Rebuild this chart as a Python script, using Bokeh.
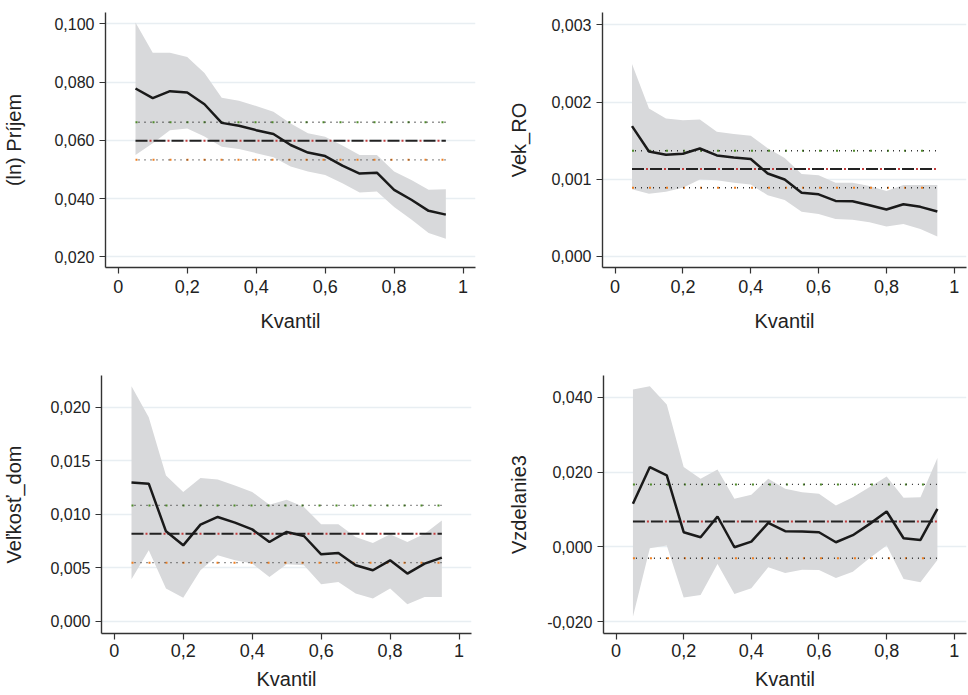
from bokeh.plotting import figure
from bokeh.layouts import column, row
from bokeh.models import FixedTicker, CustomJSTickFormatter, ColumnDataSource
from bokeh.embed import file_html
from bokeh.resources import INLINE

# ---------------- data ----------------
quantiles = [0.05, 0.10, 0.15, 0.20, 0.25, 0.30, 0.35, 0.40, 0.45, 0.50,
             0.55, 0.60, 0.65, 0.70, 0.75, 0.80, 0.85, 0.90, 0.95]

prijem_coef = [0.0778, 0.0745, 0.0769, 0.0764, 0.0724, 0.0660, 0.0650, 0.0635, 0.0622, 0.0584,
               0.0558, 0.0546, 0.0513, 0.0486, 0.0489, 0.0430, 0.0396, 0.0358, 0.0345]
prijem_hi = [0.1005, 0.0901, 0.0901, 0.0886, 0.0831, 0.0746, 0.0736, 0.0718, 0.0698, 0.0658,
             0.0624, 0.0612, 0.0582, 0.0550, 0.0550, 0.0493, 0.0464, 0.0430, 0.0432]
prijem_lo = [0.0550, 0.0590, 0.0635, 0.0641, 0.0613, 0.0578, 0.0570, 0.0556, 0.0542, 0.0510,
             0.0493, 0.0481, 0.0453, 0.0421, 0.0424, 0.0371, 0.0328, 0.0282, 0.0262]
prijem_ols = [0.0599, 0.0533, 0.0662]  # estimate, lower, upper

vek_coef = [0.001688, 0.001359, 0.001316, 0.001329, 0.001397, 0.001308, 0.001282, 0.001261, 0.001073, 0.000996,
            0.000825, 0.000803, 0.000718, 0.000714, 0.000662, 0.000607, 0.000675, 0.000641, 0.000581]
vek_hi = [0.002491, 0.001915, 0.001786, 0.001765, 0.001774, 0.001615, 0.001585, 0.001564, 0.001402, 0.001274,
          0.001068, 0.001051, 0.000953, 0.000953, 0.000910, 0.000846, 0.000923, 0.000923, 0.000923]
vek_lo = [0.000868, 0.000812, 0.000838, 0.000889, 0.000996, 0.000987, 0.000953, 0.000932, 0.000791, 0.000731,
          0.000577, 0.000547, 0.000483, 0.000474, 0.000440, 0.000385, 0.000419, 0.000355, 0.000256]
vek_ols = [0.001132, 0.000889, 0.001368]

velkost_coef = [0.01297, 0.01285, 0.00840, 0.00709, 0.00902, 0.00974, 0.00921, 0.00858, 0.00740, 0.00834,
                0.00796, 0.00625, 0.00638, 0.00523, 0.00476, 0.00569, 0.00445, 0.00538, 0.00594]
velkost_hi = [0.02196, 0.01907, 0.01362, 0.01207, 0.01337, 0.01325, 0.01269, 0.01207, 0.01089, 0.01135,
              0.01067, 0.00905, 0.00905, 0.00787, 0.00731, 0.00812, 0.00740, 0.00818, 0.00942]
velkost_lo = [0.00392, 0.00663, 0.00305, 0.00218, 0.00476, 0.00616, 0.00569, 0.00538, 0.00414, 0.00532,
              0.00523, 0.00345, 0.00367, 0.00258, 0.00212, 0.00305, 0.00159, 0.00227, 0.00227]
velkost_ols = [0.00818, 0.00547, 0.01082]

vzdel_coef = [0.01152, 0.02134, 0.01911, 0.00393, 0.00259, 0.00813, -0.00009, 0.00143, 0.00643, 0.00420,
              0.00411, 0.00393, 0.00125, 0.00313, 0.00616, 0.00946, 0.00232, 0.00188, 0.01018]
vzdel_hi = [0.04205, 0.04295, 0.03804, 0.02134, 0.01821, 0.02071, 0.01286, 0.01393, 0.01821, 0.01554,
            0.01464, 0.01420, 0.01107, 0.01330, 0.01598, 0.01884, 0.01313, 0.01330, 0.02375]
vzdel_lo = [-0.01866, -0.00036, 0.00036, -0.01348, -0.01286, -0.00455, -0.01259, -0.01107, -0.00545, -0.00696,
            -0.00607, -0.00616, -0.00830, -0.00661, -0.00295, 0.00036, -0.00857, -0.00946, -0.00348]
vzdel_ols = [0.00679, -0.00304, 0.01670]

x_ticks = [0, 0.2, 0.4, 0.6, 0.8, 1]
prijem_ticks = [0.02, 0.04, 0.06, 0.08, 0.10]
vek_ticks = [0.0, 0.001, 0.002, 0.003]
velkost_ticks = [0.0, 0.005, 0.010, 0.015, 0.020]
vzdel_ticks = [-0.02, 0.0, 0.02, 0.04]

FONT = "Liberation Sans"
BAND = "#d8d9db"
GRID = "#e8eef2"


def make_panel(ylabel, coef, lo, hi, ols, yticks, yrange, borders, width, height,
               ylab_standoff, xlab_standoff, xtick_standoff):
    bl, br, bt, bb = borders
    p = figure(width=width, height=height, output_backend="svg", toolbar_location=None,
               x_range=(-0.037, 1.036), y_range=yrange,
               min_border_left=bl, min_border_right=br, min_border_top=bt, min_border_bottom=bb)
    p.outline_line_color = None
    p.background_fill_color = "white"
    p.border_fill_color = "white"
    p.xgrid.visible = False
    p.ygrid.grid_line_color = GRID
    p.ygrid.grid_line_width = 1.6

    src = ColumnDataSource(dict(q=quantiles, c=coef, lo=lo, hi=hi))
    p.varea(x="q", y1="lo", y2="hi", source=src, fill_color=BAND, fill_alpha=1.0)

    xs = [quantiles[0], quantiles[-1]]
    est, low, up = ols
    # upper OLS CI (green dots + black dots)
    p.line(xs, [up, up], line_color="#4f8a2a", line_width=2.0, line_dash="2 15")
    p.line(xs, [up, up], line_color="#333333", line_width=1.4, line_dash="1 5", line_dash_offset=3)
    # lower OLS CI (orange dots + black dots)
    p.line(xs, [low, low], line_color="#ee7f22", line_width=2.0, line_dash="2 15")
    p.line(xs, [low, low], line_color="#333333", line_width=1.4, line_dash="1 5", line_dash_offset=3)
    # OLS estimate (red dash-dot under black dash)
    p.line(xs, [est, est], line_color="#c43c3c", line_width=2.0, line_dash="2 16", line_dash_offset=-14)
    p.line(xs, [est, est], line_color="#222222", line_width=2.0, line_dash="12 6")

    p.line(x="q", y="c", source=src, line_color="#1a1a1a", line_width=2.5)

    for ax in (p.xaxis[0], p.yaxis[0]):
        ax.axis_line_color = "#333333"
        ax.axis_line_width = 1.4
        ax.major_tick_line_color = "#333333"
        ax.major_tick_line_width = 1.2
        ax.major_tick_out = 6
        ax.major_tick_in = 0
        ax.minor_tick_line_color = None
        ax.major_label_text_font = FONT
        ax.major_label_text_color = "#222222"
        ax.axis_label_text_font = FONT
        ax.axis_label_text_font_size = "20px"
        ax.axis_label_text_font_style = "normal"
        ax.axis_label_text_color = "#222222"

    p.xaxis.ticker = FixedTicker(ticks=x_ticks)
    p.xaxis.formatter = CustomJSTickFormatter(code="""
        if (Math.abs(tick) < 1e-9) return '0';
        if (Math.abs(tick - 1) < 1e-9) return '1';
        return tick.toFixed(1).replace('.', ',');
    """)
    p.xaxis.axis_label = "Kvantil"
    p.xaxis.major_label_text_font_size = "18px"
    p.xaxis.major_label_standoff = xtick_standoff
    p.xaxis.axis_label_standoff = xlab_standoff

    p.yaxis.ticker = FixedTicker(ticks=yticks)
    p.yaxis.formatter = CustomJSTickFormatter(code="""
        let v = Math.abs(tick) < 1e-12 ? 0 : tick;
        return v.toFixed(3).replace('.', ',');
    """)
    p.yaxis.axis_label = ylabel
    p.yaxis.major_label_text_font_size = "16px"
    p.yaxis.major_label_standoff = 5
    p.yaxis.axis_label_standoff = ylab_standoff
    return p


p1 = make_panel("(ln) Príjem", prijem_coef, prijem_lo, prijem_hi, prijem_ols, prijem_ticks,
                (0.01634, 0.1039), (103, 9, 12, 79), 484, 347, 26, 14, 6)
p2 = make_panel("Vek_RO", vek_coef, vek_lo, vek_hi, vek_ols, vek_ticks,
                (-0.000145, 0.00316), (118, 2, 9, 80), 484, 347, 18, 14, 6)
p3 = make_panel("Veľkosť_dom", velkost_coef, velkost_lo, velkost_hi, velkost_ols, velkost_ticks,
                (-0.00115, 0.02296), (99, 13, 28, 62), 484, 348, 22, 8, 4)
p4 = make_panel("Vzdelanie3", vzdel_coef, vzdel_lo, vzdel_hi, vzdel_ols, vzdel_ticks,
                (-0.02313, 0.0458), (119, 2, 28, 62), 484, 348, 14, 8, 4)

layout = column(row(p1, p2), row(p3, p4))
open("out.html", "w").write(file_html(layout, INLINE))
